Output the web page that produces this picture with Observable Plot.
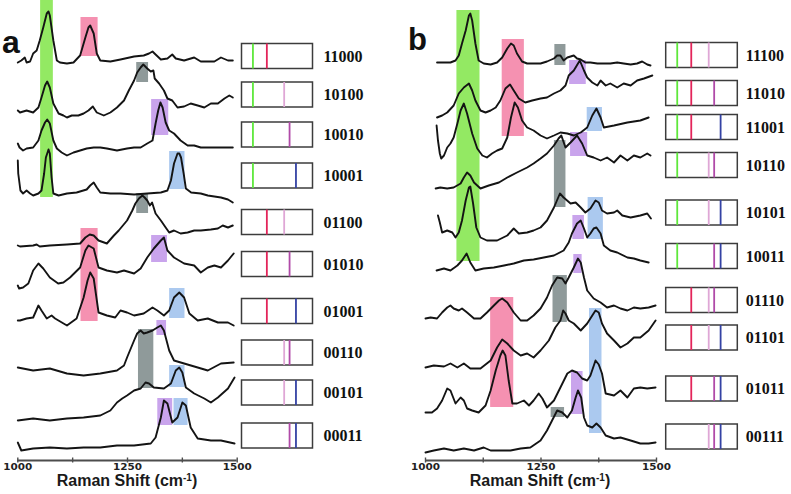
<!DOCTYPE html>
<html><head><meta charset="utf-8">
<script src="https://cdn.jsdelivr.net/npm/d3@7"></script>
<script src="https://cdn.jsdelivr.net/npm/@observablehq/plot@0.6"></script>
<style>
body{margin:0;background:#fff;}
#wrap{position:relative;width:791px;height:494px;overflow:hidden;background:#fff;font-family:"Liberation Sans",Arial,sans-serif;}
#wrap > *{position:absolute;}
.letter{font-weight:bold;color:#111;}
.xtitle{font-weight:bold;font-size:16px;line-height:16px;color:#1a1a1a;white-space:nowrap;transform:translateX(-50%);}
.xtitle sup{font-size:10px;line-height:0;vertical-align:5px;}
</style></head><body><div id="wrap"></div>
<script>
// ---------- shared values ----------
const wavenumberDomain = [1000, 1500];
const axisTicks = [1000, 1250, 1500];
const minorTicks = [1125, 1375];
const bandNames = ["green", "red", "gray", "purple", "blue"];
const bandCenters = [1077, 1175, 1297, 1335, 1380];
const bandFill = ["#93e963", "#f591b1", "#8f9a9a", "#c9a4ec", "#abc9ef"];
const barcodeColors = ["#5ee83b", "#e3245a", "#dfa7d6", "#b04aa8", "#3442a4"];

// ---------- panel a ----------
const codesA = ["11000", "10100", "10010", "10001", "01100", "01010", "01001", "00110", "00101", "00011"];
const rowsA = [404, 365.5, 325.5, 284.5, 238, 196, 149, 107.5, 67.5, 24.5];

const a_11000 = [[1000,398],[1008,400],[1016,403],[1020,398],[1028,399],[1035,407],[1043,410],[1050,420],[1058,433],[1066,447],[1070,449],[1073,445],[1081,420],[1089,400],[1096,398],[1112,397],[1127,398],[1142,405],[1154,423],[1161,433],[1165,435],[1173,427],[1180,407],[1188,400],[1211,399],[1234,401],[1265,404],[1287,405],[1299,407],[1307,409],[1314,406],[1326,401],[1341,402],[1352,406],[1360,402],[1379,400],[1402,403],[1417,399],[1433,399],[1448,399],[1463,403],[1479,400],[1490,400]];
const a_10100 = [[1000,350],[1005,348],[1020,350],[1035,348],[1047,353],[1054,363],[1062,375],[1067,379],[1073,373],[1081,357],[1093,347],[1104,345],[1112,343],[1123,345],[1138,345],[1150,347],[1161,350],[1171,354],[1180,348],[1196,345],[1211,348],[1226,353],[1242,360],[1253,370],[1265,380],[1272,388],[1280,393],[1286,396],[1295,392],[1303,389],[1309,390],[1312,382],[1322,377],[1333,370],[1341,362],[1352,360],[1364,353],[1379,354],[1394,357],[1410,355],[1425,353],[1440,357],[1456,357],[1471,362],[1482,365],[1490,363]];
const a_10010 = [[1000,317],[1004,313],[1012,310],[1020,312],[1035,313],[1047,320],[1054,330],[1062,338],[1067,341],[1073,337],[1081,320],[1089,312],[1100,308],[1112,305],[1127,308],[1142,310],[1157,312],[1173,313],[1188,313],[1203,312],[1226,310],[1249,312],[1265,313],[1280,313],[1295,317],[1307,320],[1314,337],[1320,350],[1325,358],[1330,353],[1337,338],[1345,330],[1356,327],[1371,320],[1387,315],[1402,315],[1417,313],[1448,313],[1471,313],[1490,313]];
const a_10001 = [[1000,300],[1001,287],[1006,270],[1012,267],[1020,270],[1028,267],[1035,265],[1047,267],[1054,270],[1060,287],[1064,303],[1070,311],[1073,307],[1077,283],[1081,267],[1093,265],[1112,267],[1134,268],[1157,271],[1165,275],[1173,278],[1180,273],[1188,268],[1211,267],[1234,267],[1265,266],[1295,267],[1326,268],[1341,270],[1349,280],[1356,297],[1364,307],[1368,307],[1372,303],[1378,287],[1383,272],[1395,268],[1417,267],[1433,265],[1448,264],[1463,263],[1479,261],[1490,258]];
const a_01100 = [[1000,215],[1005,214],[1035,215],[1043,216],[1050,214],[1073,215],[1112,216],[1142,217],[1154,223],[1164,226],[1173,225],[1184,220],[1203,217],[1219,225],[1230,230],[1249,240],[1261,250],[1268,257],[1276,262],[1284,265],[1289,263],[1295,260],[1301,255],[1306,258],[1314,247],[1326,240],[1337,233],[1345,228],[1356,230],[1371,227],[1387,228],[1402,230],[1417,230],[1440,231],[1456,232],[1467,235],[1479,233],[1490,235]];
const a_01010 = [[1000,175],[1003,172],[1012,173],[1024,177],[1035,190],[1047,197],[1058,192],[1073,183],[1092,177],[1104,178],[1119,183],[1142,193],[1154,210],[1161,215],[1173,212],[1184,193],[1203,190],[1226,188],[1242,190],[1265,187],[1280,192],[1295,203],[1310,212],[1326,220],[1333,223],[1341,210],[1356,203],[1379,197],[1402,195],[1417,188],[1433,193],[1448,195],[1463,193],[1479,200],[1492,207]];
const a_01001 = [[1000,140],[1005,140],[1020,142],[1035,143],[1047,155],[1054,150],[1066,142],[1077,145],[1085,142],[1112,135],[1134,142],[1150,163],[1159,180],[1165,188],[1173,182],[1184,148],[1203,145],[1222,143],[1234,150],[1249,148],[1265,145],[1287,147],[1307,153],[1318,150],[1333,145],[1345,150],[1356,163],[1368,168],[1379,163],[1391,147],[1410,140],[1433,142],[1456,138],[1479,138],[1492,135]];
const a_00110 = [[1000,93],[1035,90],[1073,92],[1112,87],[1150,85],[1188,87],[1226,90],[1242,95],[1249,103],[1265,120],[1272,127],[1280,130],[1287,127],[1295,128],[1307,130],[1318,133],[1326,135],[1333,130],[1345,110],[1356,100],[1379,97],[1410,93],[1433,90],[1463,97],[1492,98]];
const a_00101 = [[1000,40],[1035,42],[1073,40],[1112,42],[1150,43],[1188,45],[1211,50],[1226,58],[1238,62],[1249,65],[1265,70],[1280,72],[1291,78],[1299,77],[1310,73],[1333,72],[1349,77],[1360,90],[1368,93],[1375,88],[1383,73],[1402,67],[1425,62],[1440,58],[1456,63],[1479,72],[1494,83]];
const a_00011 = [[1000,18],[1008,10],[1035,12],[1073,13],[1112,12],[1150,13],[1188,13],[1226,15],[1265,15],[1303,17],[1314,23],[1326,43],[1333,60],[1341,57],[1352,38],[1364,43],[1375,58],[1383,55],[1394,33],[1410,22],[1440,20],[1463,20],[1494,17]];
const spectraA = [a_11000, a_10100, a_10010, a_10001, a_01100, a_01010, a_01001, a_00110, a_00101, a_00011];

const highlightsA = [
  {band: "green", from: 1052, to: 1081, low: 263, high: 460},
  {band: "red", from: 1144, to: 1183, low: 404, high: 443},
  {band: "gray", from: 1271, to: 1298, low: 378, high: 398},
  {band: "purple", from: 1305, to: 1344, low: 325, high: 361},
  {band: "blue", from: 1346, to: 1381, low: 271, high: 309},
  {band: "gray", from: 1271, to: 1298, low: 247, high: 267},
  {band: "red", from: 1144, to: 1183, low: 139, high: 232},
  {band: "purple", from: 1305, to: 1341, low: 198, high: 225},
  {band: "blue", from: 1346, to: 1381, low: 142, high: 172},
  {band: "gray", from: 1275, to: 1310, low: 72, high: 131},
  {band: "purple", from: 1317, to: 1339, low: 125, high: 140},
  {band: "blue", from: 1346, to: 1381, low: 73, high: 95},
  {band: "purple", from: 1319, to: 1353, low: 35, high: 62},
  {band: "blue", from: 1356, to: 1388, low: 35, high: 62}
];

// ---------- panel b ----------
const codesB = ["11100", "11010", "11001", "10110", "10101", "10011", "01110", "01101", "01011", "00111"];
const rowsB = [405, 367, 333, 295, 247.5, 204, 160, 122.5, 71.5, 23.5];

const b_11100 = [[1025,398],[1040,398],[1054,398],[1065,400],[1072,405],[1079,417],[1087,430],[1094,445],[1097,447],[1101,440],[1108,417],[1115,400],[1126,397],[1141,396],[1155,398],[1166,403],[1177,412],[1185,417],[1191,415],[1198,407],[1209,399],[1220,397],[1234,397],[1249,397],[1263,399],[1278,402],[1285,405],[1292,405],[1299,400],[1307,403],[1314,404],[1321,405],[1328,402],[1336,401],[1346,398],[1357,398],[1372,397],[1386,397],[1400,397],[1415,398],[1429,397],[1444,396],[1458,397],[1469,399],[1480,396],[1487,395]];
const b_11010 = [[1025,343],[1036,345],[1047,348],[1061,355],[1072,367],[1083,373],[1094,377],[1101,370],[1108,360],[1119,350],[1130,348],[1141,350],[1152,353],[1162,360],[1173,372],[1183,376],[1191,370],[1202,362],[1216,358],[1231,360],[1249,362],[1263,363],[1278,367],[1292,370],[1303,375],[1310,385],[1321,390],[1334,400],[1343,390],[1350,383],[1361,378],[1372,375],[1379,380],[1390,375],[1400,377],[1415,373],[1429,377],[1444,375],[1458,380],[1473,382],[1491,385]];
const b_11001 = [[1024,335],[1027,320],[1031,307],[1034,302],[1040,305],[1047,313],[1054,317],[1061,323],[1069,337],[1076,350],[1083,357],[1090,347],[1101,327],[1112,312],[1123,305],[1133,303],[1144,307],[1155,310],[1166,312],[1177,323],[1185,343],[1193,358],[1200,353],[1209,340],[1220,333],[1234,330],[1249,325],[1263,322],[1278,325],[1292,328],[1307,327],[1321,325],[1336,328],[1350,333],[1361,345],[1370,352],[1379,343],[1386,333],[1408,335],[1437,338],[1465,340],[1483,343]];
const b_10110 = [[1022,272],[1032,273],[1047,272],[1061,273],[1076,277],[1083,283],[1090,288],[1097,285],[1105,278],[1119,272],[1137,275],[1159,278],[1177,283],[1198,288],[1220,293],[1234,297],[1249,302],[1263,307],[1278,315],[1288,322],[1294,325],[1303,313],[1314,318],[1328,325],[1339,317],[1350,305],[1364,303],[1379,300],[1393,303],[1408,298],[1422,305],[1437,300],[1451,305],[1465,303],[1480,307],[1487,305]];
const b_10101 = [[1027,245],[1031,238],[1036,228],[1047,230],[1058,228],[1065,223],[1072,228],[1079,240],[1087,260],[1094,273],[1097,274],[1103,257],[1110,233],[1119,223],[1133,220],[1155,220],[1177,225],[1191,232],[1202,227],[1220,228],[1234,230],[1249,233],[1263,240],[1278,253],[1291,267],[1299,263],[1314,257],[1325,258],[1336,253],[1346,248],[1357,252],[1368,260],[1375,258],[1382,250],[1393,247],[1408,248],[1415,250],[1426,245],[1444,243],[1465,245],[1480,247],[1488,242]];
const b_10011 = [[1024,190],[1040,192],[1054,190],[1069,195],[1079,200],[1089,207],[1097,198],[1108,190],[1126,192],[1148,193],[1170,195],[1191,197],[1213,200],[1234,201],[1256,203],[1278,205],[1299,210],[1310,218],[1317,227],[1328,237],[1336,240],[1343,232],[1350,223],[1357,227],[1364,232],[1370,233],[1379,227],[1386,215],[1400,210],[1415,208],[1437,203],[1451,202],[1465,200],[1483,198]];
const b_01110 = [[1000,142],[1011,143],[1025,142],[1036,148],[1047,153],[1054,155],[1061,152],[1072,150],[1079,152],[1090,148],[1105,142],[1119,142],[1133,148],[1148,155],[1159,160],[1166,162],[1177,158],[1191,148],[1206,140],[1220,140],[1234,145],[1249,152],[1263,163],[1274,175],[1285,183],[1296,182],[1303,177],[1310,183],[1321,193],[1330,202],[1336,198],[1343,183],[1350,170],[1364,162],[1379,158],[1393,153],[1408,155],[1422,152],[1437,150],[1451,153],[1465,152],[1483,153],[1498,155]];
const b_01101 = [[1000,93],[1018,95],[1040,94],[1054,97],[1069,93],[1083,97],[1097,92],[1119,92],[1141,100],[1155,113],[1166,121],[1177,117],[1191,110],[1206,105],[1220,107],[1234,103],[1249,110],[1267,120],[1281,133],[1292,140],[1298,150],[1303,147],[1310,140],[1321,137],[1336,130],[1350,137],[1361,145],[1368,150],[1375,148],[1382,137],[1393,127],[1408,120],[1422,113],[1437,117],[1451,123],[1465,123],[1483,130],[1498,140]];
const b_01011 = [[1000,48],[1014,48],[1025,52],[1036,60],[1047,72],[1054,70],[1065,57],[1076,63],[1083,60],[1090,52],[1101,50],[1115,48],[1130,55],[1141,70],[1152,90],[1162,105],[1167,110],[1173,105],[1180,80],[1188,57],[1198,57],[1213,60],[1224,55],[1234,60],[1245,67],[1253,62],[1263,53],[1278,60],[1292,73],[1307,87],[1317,90],[1328,88],[1339,82],[1350,80],[1357,85],[1368,100],[1375,96],[1382,87],[1390,67],[1408,65],[1422,70],[1437,63],[1451,72],[1465,73],[1480,72],[1498,73]];
const b_00111 = [[1000,8],[1018,10],[1040,12],[1061,10],[1083,12],[1105,10],[1126,13],[1141,10],[1162,10],[1184,10],[1206,12],[1227,13],[1249,20],[1263,30],[1274,40],[1285,50],[1296,48],[1307,43],[1317,50],[1325,63],[1330,70],[1337,63],[1343,43],[1350,35],[1361,33],[1370,37],[1379,33],[1390,25],[1408,22],[1422,23],[1444,20],[1465,17],[1483,17],[1498,18]];
const spectraB = [b_11100, b_11010, b_11001, b_10110, b_10101, b_10011, b_01110, b_01101, b_01011, b_00111];

const highlightsB = [
  {band: "green", from: 1068, to: 1118, low: 199, high: 450},
  {band: "red", from: 1166, to: 1214, low: 324, high: 421},
  {band: "gray", from: 1280, to: 1304, low: 395, high: 416},
  {band: "purple", from: 1312, to: 1348, low: 376, high: 400},
  {band: "blue", from: 1350, to: 1383, low: 329, high: 353},
  {band: "purple", from: 1314, to: 1351, low: 304, high: 328},
  {band: "gray", from: 1279, to: 1304, low: 253, high: 320},
  {band: "blue", from: 1352, to: 1385, low: 221, high: 263},
  {band: "purple", from: 1319, to: 1344, low: 221, high: 245},
  {band: "red", from: 1141, to: 1191, low: 53, high: 163},
  {band: "gray", from: 1276, to: 1307, low: 138, high: 185},
  {band: "purple", from: 1321, to: 1339, low: 187, high: 206},
  {band: "blue", from: 1355, to: 1382, low: 27, high: 152},
  {band: "purple", from: 1316, to: 1341, low: 46, high: 89},
  {band: "gray", from: 1272, to: 1301, low: 43, high: 53}
];

// ---------- drawing ----------
const wrap = document.getElementById("wrap");
const H = 494, baseH = 460;

function place(el, left, top) {
  el.style.position = "absolute";
  el.style.left = left + "px";
  el.style.top = top + "px";
  wrap.appendChild(el);
  return el;
}

function spectraPlot(spectra, codes, highlights, width, ml, mr) {
  const lineData = spectra.flatMap((s, i) => s.map(([x, y]) => ({code: codes[i], x, y})));
  const svg = Plot.plot({
    width, height: H, marginLeft: ml, marginRight: mr, marginTop: 0, marginBottom: H - baseH,
    x: {domain: wavenumberDomain},
    y: {domain: [0, baseH], axis: null},
    color: {type: "identity"},
    style: {background: "transparent", overflow: "visible"},
    marks: [
      Plot.rect(highlights, {x1: "from", x2: "to", y1: "low", y2: "high", fill: d => bandFill[bandNames.indexOf(d.band)]}),
      Plot.line(lineData, {x: "x", y: "y", z: "code", stroke: "#141414", strokeWidth: 1.9, strokeLinejoin: "round", strokeLinecap: "round"}),
      Plot.ruleY([0], {stroke: "#4d4d4d", strokeWidth: 2}),
      Plot.ruleX([...axisTicks, ...minorTicks], {y1: -2.5, y2: 2.5, stroke: "#4d4d4d", strokeWidth: 1.4}),
      Plot.axisX({ticks: axisTicks, tickFormat: d => String(d), tickSize: 0, tickPadding: 4, fontSize: 8, fontWeight: "bold", fontFamily: "DejaVu Sans", fill: "#222", label: null})
    ]
  });
  svg.querySelectorAll('g[aria-label="x-axis tick label"] text').forEach(t => {
    t.setAttribute("textLength", 29);
    t.setAttribute("lengthAdjust", "spacingAndGlyphs");
  });
  return svg;
}

function barcodePlot(codes, rows, width, ml, mr, labelDx) {
  const half = 12.5;
  const boxes = codes.map((code, i) => ({code, mid: rows[i]}));
  const bars = codes.flatMap((code, i) => [...code].map((d, k) => d === "1" ? {band: k, mid: rows[i]} : null).filter(Boolean));
  return Plot.plot({
    width, height: H, marginLeft: ml, marginRight: mr, marginTop: 0, marginBottom: H - baseH,
    x: {domain: wavenumberDomain, axis: null},
    y: {domain: [0, baseH], axis: null},
    color: {type: "identity"},
    style: {background: "transparent", overflow: "visible"},
    marks: [
      Plot.rect(boxes, {x1: () => wavenumberDomain[0], x2: () => wavenumberDomain[1], y1: d => d.mid - half, y2: d => d.mid + half, fill: "white", stroke: "#3c3c3c", strokeWidth: 1.5}),
      Plot.ruleX(bars, {x: d => bandCenters[d.band], y1: d => d.mid - half, y2: d => d.mid + half, stroke: d => barcodeColors[d.band], strokeWidth: 1.8}),
      Plot.text(boxes, {x: () => wavenumberDomain[1], y: "mid", text: "code", dx: labelDx, textAnchor: "start", fontFamily: "Liberation Serif", fontWeight: "bold", fontSize: 16, fill: "#111"})
    ]
  });
}

place(spectraPlot(spectraA, codesA, highlightsA, 250, 17.3, 13.3), 0, 0);
place(barcodePlot(codesA, rowsA, 160, 13.5, 75.5, 10.5), 228, 0);
place(spectraPlot(spectraB, codesB, highlightsB, 270, 25, 14), 400, 0);
place(barcodePlot(codesB, rowsB, 139, 13.7, 53.7, 8), 652, 0);

function htmlText(html, cls, left, top, size) {
  const d = document.createElement("div");
  d.className = cls;
  d.innerHTML = html;
  if (size) { d.style.fontSize = size + "px"; d.style.lineHeight = size + "px"; }
  return place(d, left, top);
}
htmlText("a", "letter", 2, 26, 32);
htmlText("b", "letter", 408, 24, 31);
htmlText("Raman Shift (cm<sup>-1</sup>)", "xtitle", 127, 473);
htmlText("Raman Shift (cm<sup>-1</sup>)", "xtitle", 540, 473);
</script>
</body></html>
